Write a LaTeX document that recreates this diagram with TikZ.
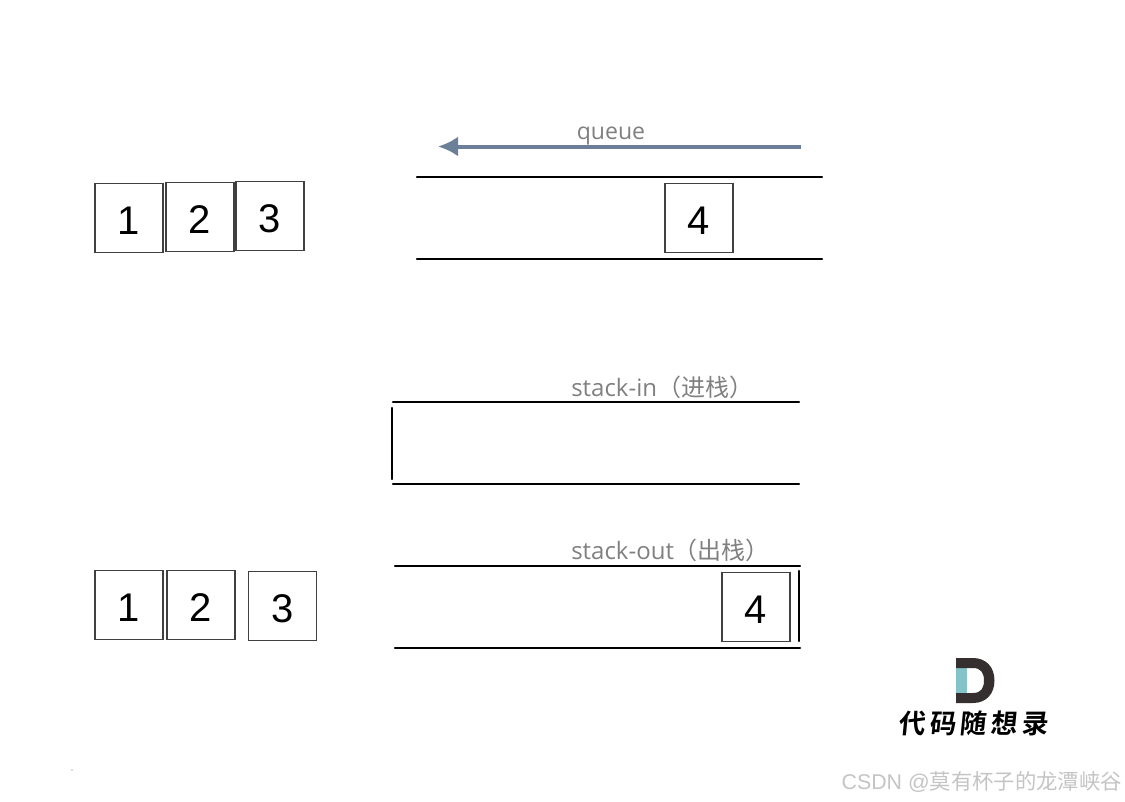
\documentclass[tikz,border=0pt]{standalone}
\usepackage{fontspec}
\setmainfont{Open Sans}
\newfontfamily\cjk{Noto Sans CJK SC}
\newfontfamily\cjkbold[FakeSlant=0.1]{Noto Sans CJK SC Bold}
\newfontfamily\numfont{Liberation Sans}
\definecolor{arrowblue}{HTML}{6C7F99}
\definecolor{labelgray}{HTML}{808080}
\definecolor{markgray}{HTML}{C4C4C4}
\definecolor{logodark}{HTML}{35302F}
\definecolor{logoteal}{HTML}{84C3C8}
\usetikzlibrary{arrows.meta}
\tikzset{
  numbox/.style={draw=black!75,line width=0.85pt,fill=white,minimum width=51pt,
    minimum height=52pt,inner sep=0pt,text height=24pt,text depth=0pt,
    font=\numfont\fontsize{30}{30}\selectfont},
  rail/.style={line width=1.7pt,line cap=round},
  caption/.style={text=labelgray,inner sep=0pt,font=\fontsize{18}{20}\selectfont}
}
\begin{document}
\begin{tikzpicture}[x=0.75pt,y=-0.75pt]
  \useasboundingbox (0,0) rectangle (1125,801);

  % Очередь
  \coordinate (queueTL) at (417,177);
  \coordinate (queueTR) at (822,177);
  \coordinate (queueBL) at (417,259);
  \coordinate (queueBR) at (822,259);
  \coordinate (flowR) at (801,146.5);
  \coordinate (flowL) at (438,146.5);

  \draw[rail] (queueTL)--(queueTR);
  \draw[rail] (queueBL)--(queueBR);
  \draw[arrowblue,line width=3pt,-{Latex[length=15pt,width=15pt]}] (flowR)--(flowL);
  \node[caption,font=\fontsize{17.3}{20}\selectfont] (queueLabel) at (611,136) {queue};

  \node[numbox] (top1) at (129,218) {1};
  \node[numbox] (top2) at (200,217) {2};
  \node[numbox] (top3) at (270,216) {3};
  \node[numbox] (top4) at (699,218) {4};

  % Входной стек
  \coordinate (inTL) at (393,402);
  \coordinate (inTR) at (799,402);
  \coordinate (inBL) at (393,484);
  \coordinate (inBR) at (799,484);
  \coordinate (inWallT) at (392,408);
  \coordinate (inWallB) at (392,479);

  \draw[rail] (inTL)--(inTR);
  \draw[rail] (inBL)--(inBR);
  \draw[rail] (inWallT)--(inWallB);
  \node[caption,anchor=west] (inLabel) at (571,387) {stack-in{\cjk（进栈）}};

  % Выходной стек
  \coordinate (outTL) at (395,566);
  \coordinate (outTR) at (800,566);
  \coordinate (outBL) at (395,648);
  \coordinate (outBR) at (800,648);
  \coordinate (outWallT) at (799,571);
  \coordinate (outWallB) at (799,641);

  \draw[rail] (outTL)--(outTR);
  \draw[rail] (outBL)--(outBR);
  \draw[rail] (outWallT)--(outWallB);
  \node[caption,anchor=west] (outLabel) at (571,550) {stack-out{\cjk（出栈）}};

  \node[numbox] (low1) at (129,605) {1};
  \node[numbox] (low2) at (201,605) {2};
  \node[numbox] (low3) at (282.5,606) {3};
  \node[numbox] (low4) at (756,607) {4};

  % Логотип
  \fill[logoteal] (956,668) rectangle (967,693);
  \fill[logodark,even odd rule]
    (956,658)--(973,658)
    .. controls (986,658) and (994.5,667) .. (994.5,680.5)
    .. controls (994.5,694) and (986,703) .. (973,703)--(956,703)--(956,693)--(973,693)
    .. controls (981,693) and (984,688) .. (984,680.5)
    .. controls (984,673) and (981,668) .. (973,668)--(956,668)--cycle;
  \node[inner sep=0pt,font=\cjkbold\fontsize{20}{22}\selectfont] (logoText) at (973,723)
    {代\hspace{3pt}码\hspace{3pt}随\hspace{3pt}想\hspace{3pt}录};

  % Подпись
  \node[text=markgray,inner sep=0pt,anchor=east,font=\numfont\fontsize{16}{18}\selectfont]
    (mark) at (1122,782) {CSDN @{\cjk 莫有杯子的龙潭峡谷}};
  \fill[black!60] (72,770) circle[radius=0.6];
\end{tikzpicture}
\end{document}
